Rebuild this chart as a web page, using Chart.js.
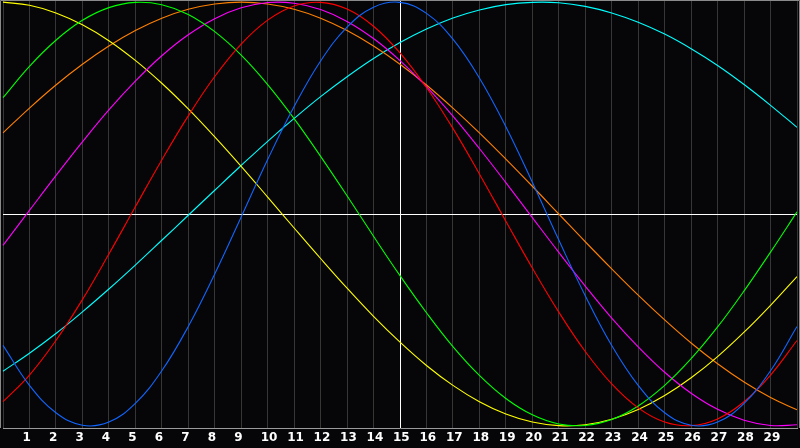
<!DOCTYPE html>
<html><head><meta charset="utf-8">
<script src="https://cdn.jsdelivr.net/npm/chart.js@4/dist/chart.umd.min.js"></script>
<style>html,body{margin:0;padding:0;background:#060609;overflow:hidden}#wrap{width:800px;height:448px;position:relative}</style>
</head><body><div id="wrap"><canvas id="c" width="800" height="448"></canvas></div>
<script>
const days = [0,1,2,3,4,5,6,7,8,9,10,11,12,13,14,15,16,17,18,19,20,21,22,23,24,25,26,27,28,29,30];
const tickLabels = ['','1','2','3','4','5','6','7','8','9','10','11','12','13','14','15','16','17','18','19','20','21','22','23','24','25','26','27','28','29',''];
const physical = [-0.620,-0.809,-0.938,-0.997,-0.982,-0.894,-0.740,-0.531,-0.283,-0.014,0.257,0.507,0.722,0.882,0.976,0.999,0.947,0.825,0.642,0.412,0.150,-0.123,-0.386,-0.621,-0.809,-0.938,-0.997,-0.982,-0.894,-0.740,-0.531];
const emotional = [-0.886,-0.760,-0.597,-0.404,-0.189,0.034,0.255,0.463,0.649,0.802,0.915,0.982,0.999,0.967,0.886,0.760,0.597,0.404,0.189,-0.034,-0.255,-0.463,-0.649,-0.802,-0.915,-0.982,-0.999,-0.967,-0.886,-0.760,-0.597];
const intellectual = [0.549,0.697,0.820,0.914,0.974,0.999,0.988,0.942,0.861,0.750,0.611,0.450,0.272,0.086,-0.105,-0.291,-0.466,-0.626,-0.762,-0.871,-0.948,-0.991,-0.998,-0.970,-0.906,-0.809,-0.683,-0.533,-0.363,-0.180,0.010];
const intuitive = [-0.148,0.017,0.181,0.340,0.491,0.627,0.747,0.846,0.922,0.973,0.998,0.995,0.965,0.909,0.828,0.724,0.601,0.462,0.309,0.148,-0.017,-0.181,-0.340,-0.491,-0.627,-0.747,-0.846,-0.922,-0.973,-0.998,-0.995];
const aesthetic = [1.000,0.985,0.949,0.893,0.818,0.725,0.617,0.496,0.364,0.225,0.080,-0.066,-0.210,-0.350,-0.483,-0.605,-0.715,-0.809,-0.886,-0.944,-0.982,-0.999,-0.995,-0.969,-0.923,-0.857,-0.773,-0.673,-0.558,-0.431,-0.295];
const awareness = [0.383,0.500,0.609,0.707,0.793,0.866,0.924,0.966,0.991,1.000,0.991,0.966,0.924,0.866,0.793,0.707,0.609,0.500,0.383,0.259,0.131,0.000,-0.131,-0.259,-0.383,-0.500,-0.609,-0.707,-0.793,-0.866,-0.924];
const spiritual = [-0.742,-0.657,-0.564,-0.462,-0.354,-0.241,-0.124,-0.006,0.112,0.229,0.343,0.451,0.554,0.648,0.734,0.809,0.873,0.925,0.963,0.988,0.999,0.997,0.980,0.949,0.905,0.849,0.780,0.701,0.611,0.513,0.409];

const seriesDefs = [
  {label:'Physical', data:physical, color:'#1166ff'},
  {label:'Emotional', data:emotional, color:'#ff0000'},
  {label:'Intellectual', data:intellectual, color:'#00ff00'},
  {label:'Intuitive', data:intuitive, color:'#ff00ff'},
  {label:'Aesthetic', data:aesthetic, color:'#ffff00'},
  {label:'Awareness', data:awareness, color:'#ff8000'},
  {label:'Spiritual', data:spiritual, color:'#00ffff'}
];

const bgPlugin = {
  id:'bg',
  beforeDraw(chart){
    const c = chart.ctx;
    c.save(); c.fillStyle = '#060609'; c.fillRect(0,0,chart.width,chart.height); c.restore();
  },
  afterDatasetsDraw(chart){
    const c = chart.ctx, a = chart.chartArea;
    c.save(); c.strokeStyle = '#8a8a8a'; c.lineWidth = 1;
    c.beginPath();
    c.moveTo(0.5, a.bottom); c.lineTo(0.5, 0.5); c.lineTo(chart.width-0.5, 0.5); c.lineTo(chart.width-0.5, a.bottom);
    c.stroke(); c.restore();
  }
};

new Chart(document.getElementById('c'), {
  type:'line',
  data:{
    labels: days,
    datasets: seriesDefs.map(s => ({
      label:s.label, data:s.data, borderColor:s.color, backgroundColor:s.color,
      borderWidth:1.1, pointRadius:0, tension:0.4, fill:false
    }))
  },
  options:{
    responsive:false, animation:false, devicePixelRatio:1,
    layout:{padding:0},
    plugins:{legend:{display:false}, tooltip:{enabled:false}},
    scales:{
      x:{
        type:'category', offset:false,
        afterFit(s){ s.height = 20; },
        grid:{ drawTicks:false, color:(ctx)=> ctx.index===15 ? '#ffffff' : '#363636', lineWidth:1 },
        border:{ display:true, color:'#9a9a9a' },
        ticks:{ autoSkip:false, maxRotation:0, align:'start', labelOffset:-7, padding:3, color:'#ffffff',
          font:{family:'DejaVu Sans', size:12, weight:'bold'},
          callback:(v,i)=> tickLabels[i] }
      },
      y:{
        min:-1.01, max:1.01,
        afterFit(s){ s.width = 0; },
        ticks:{ display:false, stepSize:0.5 },
        border:{ display:false },
        grid:{ drawTicks:false, color:(ctx)=> (ctx.tick && Math.abs(ctx.tick.value)<1e-9) ? '#ffffff' : 'rgba(0,0,0,0)' }
      }
    }
  },
  plugins:[bgPlugin]
});
</script></body></html>
